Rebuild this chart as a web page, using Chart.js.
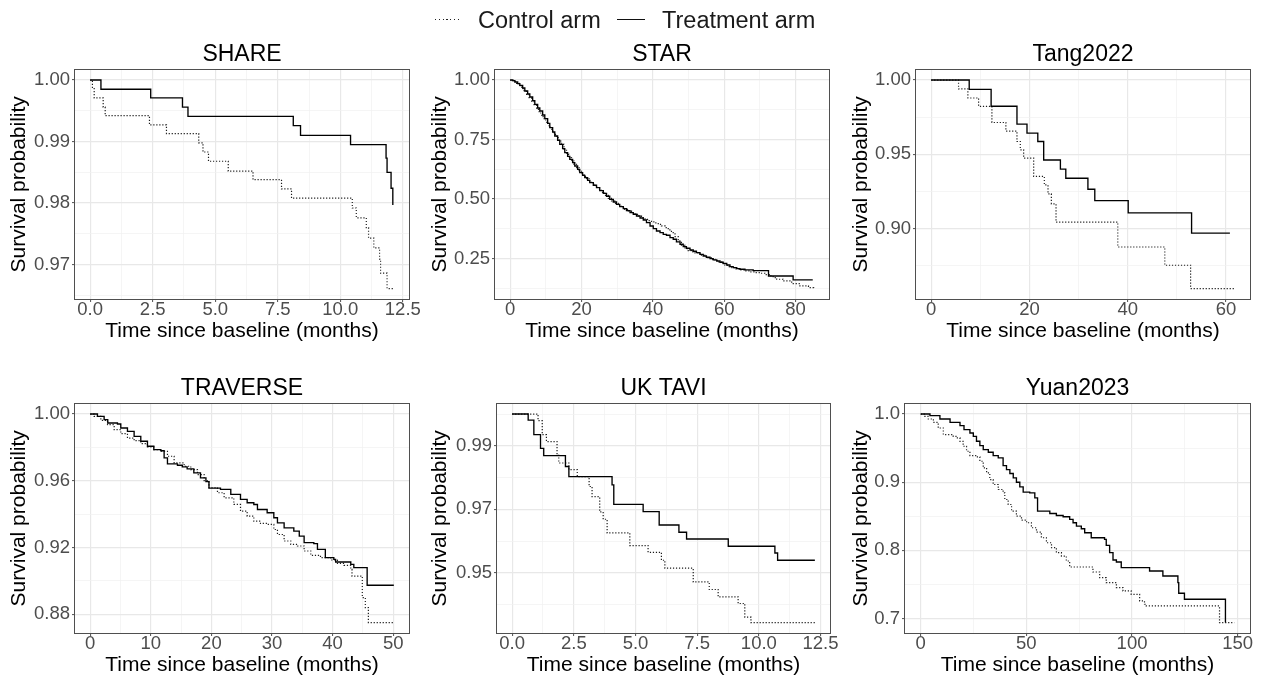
<!DOCTYPE html>
<html>
<head>
<meta charset="utf-8">
<title>Kaplan-Meier survival by trial</title>
<script src="https://cdn.jsdelivr.net/npm/chart.js@4.4.1/dist/chart.umd.min.js"></script>
<style>
  html, body { margin: 0; padding: 0; background: #fff; }
  body { width: 1263px; height: 679px; position: relative; overflow: hidden;
         font-family: "Liberation Sans", Arial, Helvetica, sans-serif; }
  canvas { position: absolute; }
  #legend { position: absolute; left: 0; top: 0; width: 1263px; height: 36px; filter: blur(0.35px); }
  #legend .key { position: absolute; top: 19px; height: 1px; }
  #legend .dotted { width: 27px; background: repeating-linear-gradient(to right, #222 0 1.2px, transparent 1.2px 3.8px); }
  #legend .solid { width: 28px; background: #111; height: 1.4px; }
  #legend .lab { position: absolute; top: 6px; font-size: 23.5px; line-height: 28px; color: #1a1a1a; white-space: nowrap; }
</style>
</head>
<body>
<div id="legend">
  <span class="key dotted" style="left:435px"></span>
  <span class="lab" id="labCtrl" style="left:478px"></span>
  <span class="key solid" style="left:617px"></span>
  <span class="lab" id="labTrt" style="left:662px"></span>
</div>
<script>
const trials = ['SHARE', 'STAR', 'Tang2022', 'TRAVERSE', 'UK TAVI', 'Yuan2023'];
const armLabels = ['Control arm', 'Treatment arm'];
const xTitle = 'Time since baseline (months)';
const yTitle = 'Survival probability';

// ---- SHARE ----
const shareCtrlTime = [0, 0.09, 0.16, 0.52, 0.60, 2.37, 3.05, 4.34, 4.51, 4.73, 5.52, 6.51, 7.65, 8.05, 10.48, 10.64, 11.04, 11.13, 11.34, 11.57, 11.61, 11.87, 12.14];
const shareCtrlSurv = [1, 0.9986, 0.9971, 0.9956, 0.9942, 0.9927, 0.9913, 0.9898, 0.9883, 0.9868, 0.9852, 0.9838, 0.9823, 0.9808, 0.9792, 0.9776, 0.9760, 0.9743, 0.9727, 0.9709, 0.9686, 0.9661, 0.9661];
const shareTrtTime = [0, 0.43, 2.42, 3.69, 3.91, 8.12, 8.41, 10.41, 11.83, 11.87, 12.03, 12.10];
const shareTrtSurv = [1, 0.9985, 0.9971, 0.9956, 0.9941, 0.9926, 0.9910, 0.9895, 0.9873, 0.9850, 0.9824, 0.9797];
const shareXTicks = ['0.0', '2.5', '5.0', '7.5', '10.0', '12.5'];
const shareYTicks = ['0.97', '0.98', '0.99', '1.00'];

// ---- STAR ----
const starCtrlTime = [0, 0.85, 1.8, 2.5, 3.2, 3.9, 4.6, 5.3, 6.0, 6.7, 7.4, 8.1, 8.8, 9.5, 10.2, 10.9, 11.6, 12.3, 13.0, 13.7, 14.4, 15.1, 15.8, 16.5, 17.2, 17.9, 18.6, 19.3, 20.0, 20.7, 21.4, 22.1, 22.8, 23.7, 24.7, 25.6, 26.5, 27.5, 28.4, 29.3, 30.3, 31.2, 32.1, 33.1, 34.0, 35.0, 35.9, 36.8, 37.8, 38.7, 39.6, 40.6, 41.5, 42.4, 43.4, 44.3, 45.2, 46.2, 47.1, 48.0, 49.0, 49.9, 50.8, 51.8, 52.7, 53.6, 54.6, 55.5, 56.4, 57.4, 58.3, 59.3, 60.2, 61.1, 62.1, 63.3, 64.4, 65.8, 67.2, 68.6, 70.0, 71.4, 72.8, 73.7, 74.7, 76.5, 78.9, 81.2, 83.6, 85.1];
const starCtrlSurv = [1, 0.9944, 0.9860, 0.9762, 0.9636, 0.9524, 0.9398, 0.9258, 0.9118, 0.8937, 0.8769, 0.8615, 0.8461, 0.8321, 0.8181, 0.8013, 0.7859, 0.7719, 0.7579, 0.7440, 0.7300, 0.7090, 0.6880, 0.6740, 0.6600, 0.6460, 0.6320, 0.6194, 0.6068, 0.5956, 0.5858, 0.5760, 0.5663, 0.5537, 0.5411, 0.5285, 0.5159, 0.5033, 0.4921, 0.4823, 0.4739, 0.4655, 0.4571, 0.4501, 0.4431, 0.4361, 0.4291, 0.4221, 0.4151, 0.4095, 0.4039, 0.3997, 0.3941, 0.3871, 0.3802, 0.3704, 0.3592, 0.3424, 0.3242, 0.3060, 0.2920, 0.2836, 0.2780, 0.2738, 0.2696, 0.2640, 0.2584, 0.2528, 0.2472, 0.2416, 0.2360, 0.2290, 0.2220, 0.2164, 0.2122, 0.2066, 0.2025, 0.1983, 0.1941, 0.1913, 0.1885, 0.1829, 0.1773, 0.1703, 0.1633, 0.1563, 0.1451, 0.1353, 0.1283, 0.1241];
const starTrtTime = [0, 0.65, 1.3, 2.1, 2.7, 3.5, 4.1, 4.9, 5.5, 6.3, 6.9, 7.7, 8.3, 9.1, 9.7, 10.5, 11.1, 11.9, 12.5, 13.3, 13.9, 14.7, 15.3, 16.1, 16.7, 17.5, 18.1, 18.9, 19.5, 20.3, 20.9, 21.7, 22.3, 23.3, 24.2, 25.1, 26.1, 27.0, 27.9, 28.9, 29.8, 30.7, 31.7, 32.6, 33.6, 34.5, 35.4, 36.4, 37.3, 38.2, 39.2, 40.1, 41.0, 42.0, 42.9, 43.8, 44.8, 45.7, 46.6, 47.6, 48.5, 49.4, 50.4, 51.3, 52.2, 53.2, 54.1, 55.0, 56.0, 56.9, 57.9, 58.8, 59.7, 60.7, 61.6, 62.5, 63.5, 64.4, 65.8, 68.1, 72.4, 79.3, 84.8];
const starTrtSurv = [1, 0.9972, 0.9916, 0.9846, 0.9776, 0.9664, 0.9538, 0.9412, 0.9286, 0.9132, 0.8979, 0.8825, 0.8699, 0.8531, 0.8377, 0.8181, 0.8000, 0.7817, 0.7649, 0.7467, 0.7300, 0.7118, 0.6950, 0.6796, 0.6670, 0.6530, 0.6390, 0.6250, 0.6110, 0.5998, 0.5900, 0.5788, 0.5690, 0.5579, 0.5480, 0.5355, 0.5240, 0.5117, 0.4990, 0.4879, 0.4780, 0.4683, 0.4600, 0.4515, 0.4430, 0.4361, 0.4290, 0.4207, 0.4120, 0.4012, 0.3870, 0.3760, 0.3660, 0.3592, 0.3520, 0.3480, 0.3380, 0.3312, 0.3200, 0.3102, 0.3000, 0.2934, 0.2860, 0.2808, 0.2750, 0.2680, 0.2610, 0.2557, 0.2500, 0.2445, 0.2400, 0.2347, 0.2300, 0.2232, 0.2160, 0.2120, 0.2080, 0.2052, 0.2025, 0.1997, 0.1770, 0.1605, 0.1605];
const starXTicks = ['0', '20', '40', '60', '80'];
const starYTicks = ['0.25', '0.50', '0.75', '1.00'];

// ---- Tang2022 ----
const tangCtrlTime = [0, 5.57, 7.47, 9.65, 12.36, 15.2, 17.46, 18.14, 18.82, 20.86, 23.03, 23.78, 24.46, 25.41, 37.98, 47.55, 52.8, 61.8];
const tangCtrlSurv = [1, 0.9940, 0.9879, 0.9823, 0.9714, 0.9656, 0.9586, 0.9530, 0.9474, 0.9351, 0.9293, 0.9233, 0.9166, 0.9043, 0.8875, 0.8752, 0.8595, 0.8595];
const tangTrtTime = [0, 7.74, 12.2, 17.46, 19.5, 21.7, 22.9, 26.3, 27.4, 31.9, 33.3, 40.1, 53.0, 60.8];
const tangTrtSurv = [1, 0.9937, 0.9823, 0.9703, 0.9642, 0.9586, 0.9461, 0.9400, 0.9338, 0.9264, 0.9188, 0.9105, 0.8969, 0.8969];
const tangXTicks = ['0', '20', '40', '60'];
const tangYTicks = ['0.90', '0.95', '1.00'];

// ---- TRAVERSE ----
const travCtrlTime = [0, 0.66, 1.76, 2.86, 3.96, 5.05, 6.15, 7.25, 8.35, 9.45, 10.5, 11.65, 12.75, 13.85, 15.5, 16.6, 17.7, 18.8, 19.6, 21.0, 22.1, 23.7, 24.8, 25.9, 27.0, 28.1, 29.2, 30.3, 30.9, 32.0, 33.1, 34.2, 35.3, 36.4, 38.0, 39.7, 40.8, 41.9, 43.0, 43.2, 44.9, 45.4, 45.9, 50.1];
const travCtrlSurv = [1, 0.9986, 0.9962, 0.9936, 0.9906, 0.9882, 0.9856, 0.9840, 0.9823, 0.9803, 0.9787, 0.9777, 0.9747, 0.9707, 0.9687, 0.9667, 0.9637, 0.9601, 0.9558, 0.9528, 0.9498, 0.9458, 0.9418, 0.9388, 0.9358, 0.9344, 0.9338, 0.9308, 0.9278, 0.9239, 0.9219, 0.9209, 0.9179, 0.9153, 0.9139, 0.9125, 0.9105, 0.9093, 0.9069, 0.9029, 0.8900, 0.8840, 0.8750, 0.8750];
const travTrtTime = [0, 1.2, 2.3, 2.9, 4.5, 5.05, 6.15, 7.25, 8.35, 9.45, 10.5, 11.65, 12.2, 12.75, 14.4, 15.2, 16.0, 17.1, 18.2, 19.1, 19.6, 21.5, 23.2, 24.8, 25.9, 27.0, 27.6, 29.2, 30.3, 30.9, 32.0, 33.6, 34.5, 35.3, 36.9, 37.5, 38.8, 40.2, 40.5, 43.0, 43.5, 45.7, 50.1];
const travTrtSurv = [1, 0.9986, 0.9966, 0.9946, 0.9940, 0.9916, 0.9896, 0.9866, 0.9837, 0.9807, 0.9787, 0.9780, 0.9737, 0.9701, 0.9693, 0.9683, 0.9671, 0.9647, 0.9617, 0.9595, 0.9556, 0.9548, 0.9518, 0.9488, 0.9468, 0.9458, 0.9428, 0.9408, 0.9378, 0.9348, 0.9318, 0.9298, 0.9268, 0.9229, 0.9223, 0.9189, 0.9139, 0.9129, 0.9113, 0.9099, 0.9079, 0.8974, 0.8974];
const travXTicks = ['0', '10', '20', '30', '40', '50'];
const travYTicks = ['0.88', '0.92', '0.96', '1.00'];

// ---- UK TAVI ----
const taviCtrlTime = [0, 1.05, 1.22, 1.39, 1.82, 1.89, 2.30, 2.64, 3.12, 3.24, 3.55, 3.69, 3.85, 4.77, 5.51, 6.05, 6.19, 7.34, 7.99, 8.35, 9.16, 9.43, 9.68, 12.27];
const taviCtrlSurv = [1, 0.9979, 0.9935, 0.9913, 0.9870, 0.9846, 0.9825, 0.9803, 0.9772, 0.9740, 0.9692, 0.9669, 0.9626, 0.9586, 0.9565, 0.9540, 0.9515, 0.9472, 0.9448, 0.9425, 0.9404, 0.9361, 0.9344, 0.9344];
const taviTrtTime = [0, 0.65, 0.88, 1.15, 1.28, 2.16, 2.30, 4.05, 4.12, 5.31, 5.96, 6.76, 7.07, 8.76, 10.65, 10.76, 12.27];
const taviTrtSurv = [1, 0.9981, 0.9935, 0.9892, 0.9869, 0.9835, 0.9803, 0.9777, 0.9716, 0.9693, 0.9651, 0.9628, 0.9607, 0.9584, 0.9563, 0.9540, 0.9540];
const taviXTicks = ['0.0', '2.5', '5.0', '7.5', '10.0', '12.5'];
const taviYTicks = ['0.95', '0.97', '0.99'];

// ---- Yuan2023 ----
const yuanCtrlTime = [0, 2.0, 3.6, 6.0, 8.3, 10.7, 15.4, 17.0, 18.6, 20.1, 21.7, 23.3, 26.4, 28.0, 29.6, 31.2, 32.7, 34.3, 36.7, 39.0, 39.8, 41.4, 43.0, 45.3, 47.7, 50.1, 52.4, 54.8, 57.1, 59.5, 61.9, 64.2, 66.6, 68.9, 70.5, 81.5, 84.7, 87.8, 92.6, 95.7, 99.6, 103.6, 105.9, 106.7, 141.4, 148.4];
const yuanCtrlSurv = [1, 0.9966, 0.9927, 0.9878, 0.9795, 0.9698, 0.9673, 0.9649, 0.9600, 0.9527, 0.9454, 0.9390, 0.9371, 0.9307, 0.9210, 0.9137, 0.9039, 0.8966, 0.8893, 0.8844, 0.8746, 0.8673, 0.8576, 0.8502, 0.8444, 0.8405, 0.8332, 0.8268, 0.8185, 0.8112, 0.8039, 0.7966, 0.7917, 0.7844, 0.7756, 0.7683, 0.7600, 0.7527, 0.7454, 0.7405, 0.7356, 0.7259, 0.7210, 0.7185, 0.6941, 0.6941];
const yuanTrtTime = [0, 4.4, 9.1, 13.9, 18.6, 20.5, 23.3, 24.9, 26.4, 28.0, 29.6, 32.0, 34.3, 36.7, 39.0, 40.6, 42.2, 43.8, 45.3, 46.9, 48.5, 51.6, 54.0, 55.3, 61.1, 64.2, 67.4, 70.5, 72.1, 73.7, 76.0, 77.6, 80.7, 87.0, 87.8, 89.4, 91.0, 92.6, 94.9, 108.3, 114.6, 121.7, 122.1, 124.8, 144.2];
const yuanTrtSurv = [1, 0.9976, 0.9927, 0.9878, 0.9829, 0.9771, 0.9722, 0.9673, 0.9600, 0.9537, 0.9478, 0.9439, 0.9390, 0.9356, 0.9244, 0.9185, 0.9127, 0.9063, 0.9000, 0.8932, 0.8854, 0.8844, 0.8771, 0.8576, 0.8541, 0.8512, 0.8493, 0.8454, 0.8405, 0.8356, 0.8317, 0.8259, 0.8185, 0.8161, 0.8073, 0.7966, 0.7859, 0.7829, 0.7746, 0.7698, 0.7624, 0.7527, 0.7371, 0.7283, 0.6941];
const yuanXTicks = ['0', '50', '100', '150'];
const yuanYTicks = ['0.7', '0.8', '0.9', '1.0'];

const FONT = '"Liberation Sans", Arial, Helvetica, sans-serif';
Chart.defaults.font.family = FONT;

// where each panel sits and how wide its y axis strip is
const panels = [
  { title: trials[0], ctrl: [shareCtrlTime, shareCtrlSurv], trt: [shareTrtTime, shareTrtSurv], xt: shareXTicks, yt: shareYTicks, left: 0,   top: 36,  axisW: 75, padR: 12 },
  { title: trials[1], ctrl: [starCtrlTime, starCtrlSurv],   trt: [starTrtTime, starTrtSurv],   xt: starXTicks,  yt: starYTicks,  left: 421, top: 36,  axisW: 74, padR: 13 },
  { title: trials[2], ctrl: [tangCtrlTime, tangCtrlSurv],   trt: [tangTrtTime, tangTrtSurv],   xt: tangXTicks,  yt: tangYTicks,  left: 842, top: 36,  axisW: 74, padR: 13 },
  { title: trials[3], ctrl: [travCtrlTime, travCtrlSurv],   trt: [travTrtTime, travTrtSurv],   xt: travXTicks,  yt: travYTicks,  left: 0,   top: 370, axisW: 75, padR: 12 },
  { title: trials[4], ctrl: [taviCtrlTime, taviCtrlSurv],   trt: [taviTrtTime, taviTrtSurv],   xt: taviXTicks,  yt: taviYTicks,  left: 421, top: 370, axisW: 76, padR: 12 },
  { title: trials[5], ctrl: [yuanCtrlTime, yuanCtrlSurv],   trt: [yuanTrtTime, yuanTrtSurv],   xt: yuanXTicks,  yt: yuanYTicks,  left: 842, top: 370, axisW: 63, padR: 13 }
];

document.getElementById('labCtrl').textContent = armLabels[0];
document.getElementById('labTrt').textContent = armLabels[1];

// ggplot-style 5% expansion of the data range
function padded(lo, hi) {
  const d = (hi - lo) * 0.05;
  return [lo - d, hi + d];
}

// full rectangle round the plotting area, drawn over the curves
const panelFrame = {
  id: 'panelFrame',
  afterDatasetsDraw(chart) {
    const { ctx, chartArea: a } = chart;
    const l = Math.round(a.left) - 0.5, t = Math.round(a.top) - 0.5;
    const r = Math.round(a.right) + 0.5, b = Math.round(a.bottom) + 0.5;
    ctx.save();
    ctx.strokeStyle = '#4f4f4f';
    ctx.lineWidth = 1;
    ctx.strokeRect(l, t, r - l, b - t);
    ctx.restore();
  }
};

function axis(labels, lo, hi, isX, p) {
  const major = labels.map(Number);
  const step = major[1] - major[0];
  const eps = step / 1000;
  const minor = major.map(v => v - step / 2).concat(major[major.length - 1] + step / 2);
  const values = major.concat(minor).filter(v => v >= lo && v <= hi).sort((a, b) => a - b);
  const isMajor = v => major.some(m => Math.abs(m - v) < eps);
  return {
    type: 'linear',
    min: lo,
    max: hi,
    afterBuildTicks: s => { s.ticks = values.map(v => ({ value: v })); },
    afterFit: s => {
      if (isX) { s.height = 47; s.paddingLeft = 0; s.paddingRight = 0; }
      else { s.width = p.axisW; s.paddingTop = 0; s.paddingBottom = 0; }
    },
    ticks: {
      autoSkip: false,
      maxRotation: 0,
      minRotation: 0,
      color: '#4D4D4D',
      font: { size: 18.5, lineHeight: 1 },
      padding: isX ? -1 : 2,
      callback: v => {
        const i = major.findIndex(m => Math.abs(m - v) < eps);
        return i < 0 ? '' : labels[i];
      }
    },
    grid: {
      color: c => (c.tick && !isMajor(c.tick.value)) ? '#F0F0F0' : '#E8E8E8',
      lineWidth: c => (c.tick && !isMajor(c.tick.value)) ? 0.7 : 1.2,
      tickColor: c => (c.tick && !isMajor(c.tick.value)) ? 'rgba(0,0,0,0)' : '#4f4f4f',
      tickLength: 3,
      tickWidth: 1
    },
    border: { display: false },
    title: {
      display: true,
      text: isX ? xTitle : yTitle,
      color: '#000',
      font: { size: 21 },
      padding: isX ? { top: 0, bottom: 2 } : { top: 7, bottom: 0 }
    }
  };
}

function arm(times, surv, dotted) {
  return {
    label: dotted ? armLabels[0] : armLabels[1],
    data: times.map((t, i) => ({ x: t, y: surv[i] })),
    stepped: 'before',
    borderColor: dotted ? '#1c1c1c' : '#000',
    borderWidth: dotted ? 1.2 : 1.35,
    borderDash: dotted ? [1.2, 1.8] : [],
    pointRadius: 0,
    fill: false
  };
}

panels.forEach(p => {
  const canvas = document.createElement('canvas');
  canvas.width = 421;
  canvas.height = 310;
  canvas.style.left = p.left + 'px';
  canvas.style.top = p.top + 'px';
  document.body.appendChild(canvas);

  const allT = p.ctrl[0].concat(p.trt[0]);
  const allS = p.ctrl[1].concat(p.trt[1]);
  const [xMin, xMax] = padded(0, Math.max(...allT));
  const [yMin, yMax] = padded(Math.min(...allS), Math.max(...allS));

  new Chart(canvas, {
    type: 'line',
    data: {
      // treatment first so it is drawn on top
      datasets: [arm(p.trt[0], p.trt[1], false), arm(p.ctrl[0], p.ctrl[1], true)]
    },
    options: {
      responsive: false,
      animation: false,
      devicePixelRatio: 1,
      layout: { padding: { left: 0, right: p.padR, top: 0, bottom: 0 } },
      plugins: {
        legend: { display: false },
        tooltip: { enabled: false },
        title: {
          display: true,
          text: p.title,
          fullSize: false,
          color: '#000',
          font: { size: 23, weight: 'normal', lineHeight: 1.2 },
          padding: { top: 5, bottom: 1 }
        }
      },
      scales: {
        x: axis(p.xt, xMin, xMax, true, p),
        y: axis(p.yt, yMin, yMax, false, p)
      }
    },
    plugins: [panelFrame]
  });
});
</script>
</body>
</html>
